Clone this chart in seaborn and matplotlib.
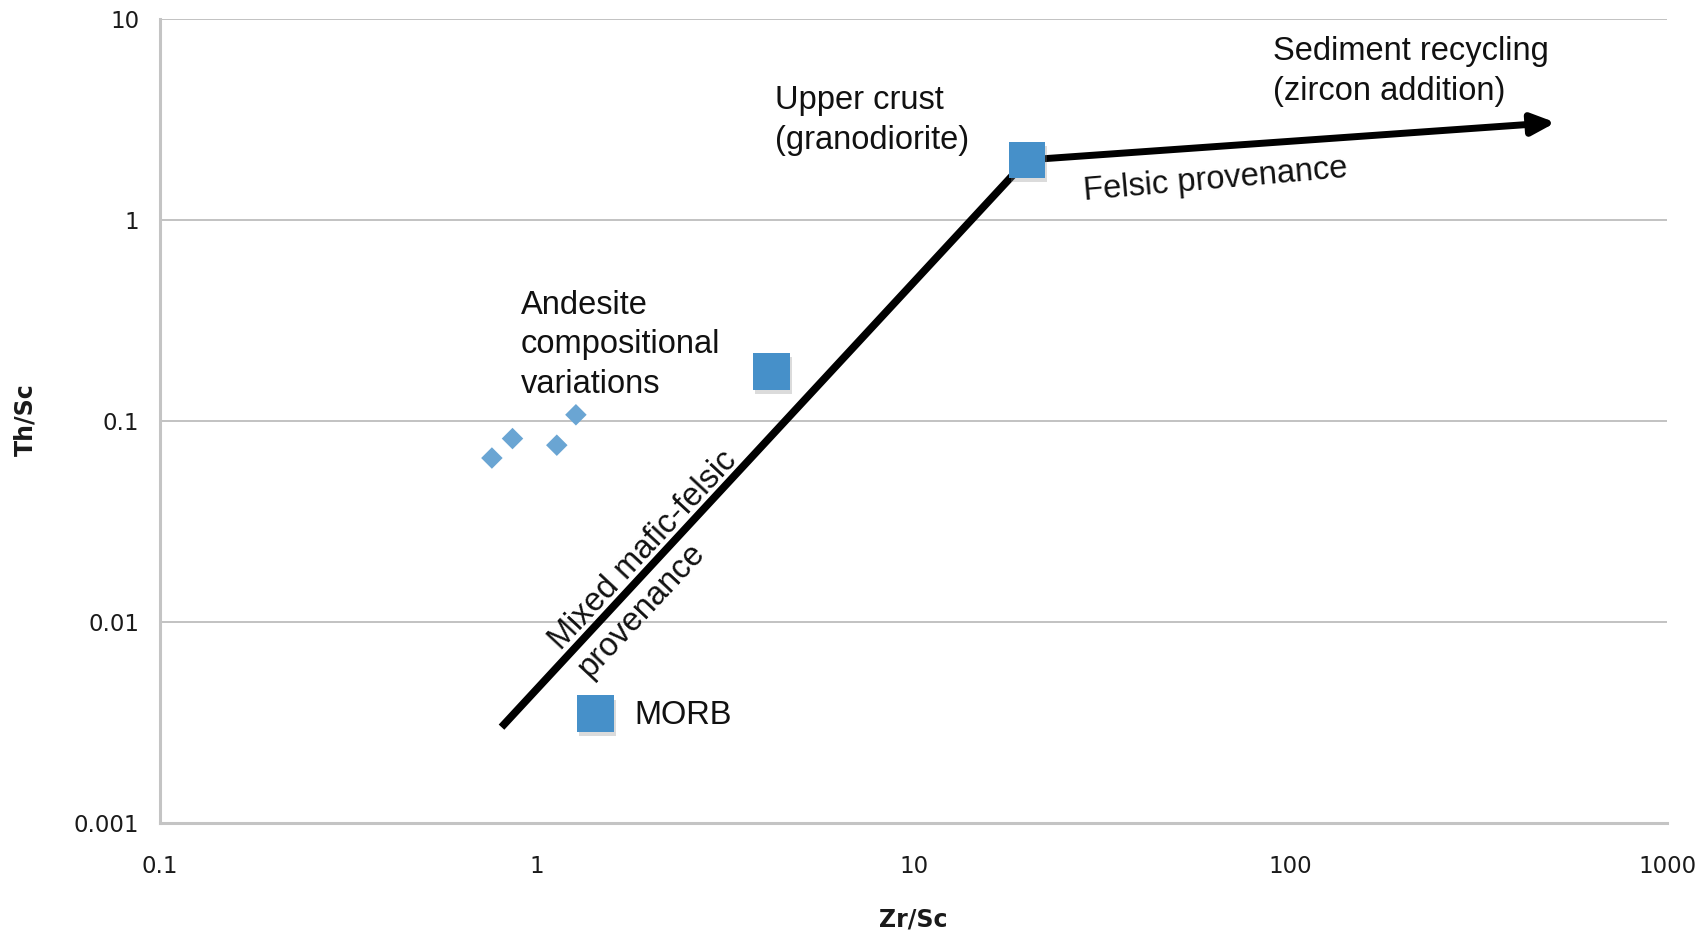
import matplotlib
matplotlib.use("Agg")
import matplotlib.pyplot as plt
import matplotlib.patheffects as pe
import numpy as np
import pandas as pd
import seaborn as sns
from matplotlib.ticker import FixedLocator, LogLocator, NullFormatter

# Reference compositions (Zr/Sc vs Th/Sc)
ref_names = ["Upper crust", "Andesite", "MORB"]
ref_zr_sc = [20.0, 4.2, 1.43]
ref_th_sc = [2.0, 0.177, 0.0035]

# Andesite samples
and_zr_sc = [0.76, 0.862, 1.13, 1.27]
and_th_sc = [0.0656, 0.082, 0.076, 0.1077]

# Provenance trend: mafic end -> upper crust, then sediment recycling arrow
trend_zr_sc = [0.806, 20.0]
trend_th_sc = [0.0030, 2.0]
recycle_zr_sc = [20.0, 506.0]
recycle_th_sc = [2.0, 3.07]

x_ticks = [0.1, 1, 10, 100, 1000]
x_labels = ["0.1", "1", "10", "100", "1000"]
y_ticks = [0.001, 0.01, 0.1, 1, 10]
y_labels = ["0.001", "0.01", "0.1", "1", "10"]

sns.set_theme(style="white")
plt.rcParams["font.family"] = ["DejaVu Sans"]

fig = plt.figure(figsize=(16.99, 9.33), dpi=100)
ax = fig.add_axes([0.0942, 0.1179, 0.8870, 0.8612])
ax.set_xscale("log")
ax.set_yscale("log")
ax.set_xlim(0.1, 1000)
ax.set_ylim(0.001, 10)

# horizontal grid only
ax.yaxis.grid(True, which="major", color="#BDBDBD", lw=1.3)
ax.xaxis.grid(False)
ax.set_axisbelow(True)

trend = pd.DataFrame({"zr_sc": trend_zr_sc, "th_sc": trend_th_sc})
sns.lineplot(data=trend, x="zr_sc", y="th_sc", ax=ax, color="black", lw=5.5,
             sort=False, estimator=None, solid_capstyle="butt", zorder=3)
ax.annotate("", xy=(recycle_zr_sc[1], recycle_th_sc[1]),
            xytext=(recycle_zr_sc[0], recycle_th_sc[0]),
            arrowprops=dict(arrowstyle="-|>,head_length=0.7,head_width=0.32",
                            color="black", lw=5, shrinkA=0, shrinkB=0,
                            mutation_scale=20),
            zorder=3)

andesite = pd.DataFrame({"zr_sc": and_zr_sc, "th_sc": and_th_sc})
sns.scatterplot(data=andesite, x="zr_sc", y="th_sc", ax=ax, marker="D",
                s=120, color="#6AA5D3", edgecolor="none", linewidth=0, zorder=4)

refs = pd.DataFrame({"name": ref_names, "zr_sc": ref_zr_sc, "th_sc": ref_th_sc})
sq = sns.scatterplot(data=refs, x="zr_sc", y="th_sc", ax=ax, marker="s",
                     s=700, color="#4690C9", edgecolor="none", linewidth=0,
                     zorder=5)
sq.collections[-1].set_path_effects([
    pe.SimplePatchShadow(offset=(1.5, -3), shadow_rgbFace="#888888", alpha=0.3),
    pe.Normal(),
])

# axes styling
for side in ("top", "right"):
    ax.spines[side].set_visible(False)
for side in ("left", "bottom"):
    ax.spines[side].set_color("#C4C4C4")
    ax.spines[side].set_linewidth(2.2)

ax.xaxis.set_major_locator(FixedLocator(x_ticks))
ax.set_xticklabels(x_labels)
ax.yaxis.set_major_locator(FixedLocator(y_ticks))
ax.set_yticklabels(y_labels)
ax.xaxis.set_minor_locator(LogLocator(base=10, subs=np.arange(2, 10)))
ax.yaxis.set_minor_locator(LogLocator(base=10, subs=np.arange(2, 10)))
ax.xaxis.set_minor_formatter(NullFormatter())
ax.yaxis.set_minor_formatter(NullFormatter())

ax.tick_params(axis="x", which="major", direction="inout", length=14,
               width=1.6, color="#B0B0B0", pad=16, labelsize=16.5,
               labelcolor="#1A1A1A")
ax.tick_params(axis="y", which="major", direction="out", length=7,
               width=1.6, color="#B0B0B0", pad=8, labelsize=16.5,
               labelcolor="#1A1A1A")
ax.tick_params(axis="both", which="minor", direction="in", length=5,
               width=1.3, color="#B0B0B0")

ax.set_xlabel("Zr/Sc", fontsize=17, fontweight="bold", color="#1A1A1A")
ax.set_ylabel("Th/Sc", fontsize=17, fontweight="bold", color="#1A1A1A")
ax.xaxis.set_label_coords(0.5, -0.105)
ax.yaxis.set_label_coords(-0.0816, 0.5016)

txt = dict(family=["Liberation Sans", "DejaVu Sans"], fontsize=23.5,
           color="#111111", linespacing=1.36)
ax.text(4.28, 3.15, "Upper crust\n(granodiorite)", ha="left", va="center", **txt)
ax.text(90.2, 5.5, "Sediment recycling\n(zircon addition)", ha="left",
        va="center", **txt)
ax.text(0.908, 0.24, "Andesite\ncompositional\nvariations", ha="left",
        va="center", **txt)
ax.text(1.82, 0.00342, "MORB", ha="left", va="center", **txt)
ax.text(63.5, 1.59, "Felsic provenance", ha="center", va="center",
        rotation=5, **txt)
ax.text(2.09, 0.0194, "Mixed mafic-felsic\nprovenance", ha="center",
        va="center", rotation=47, multialignment="left", **txt)

fig.savefig("out.png", dpi=100)
